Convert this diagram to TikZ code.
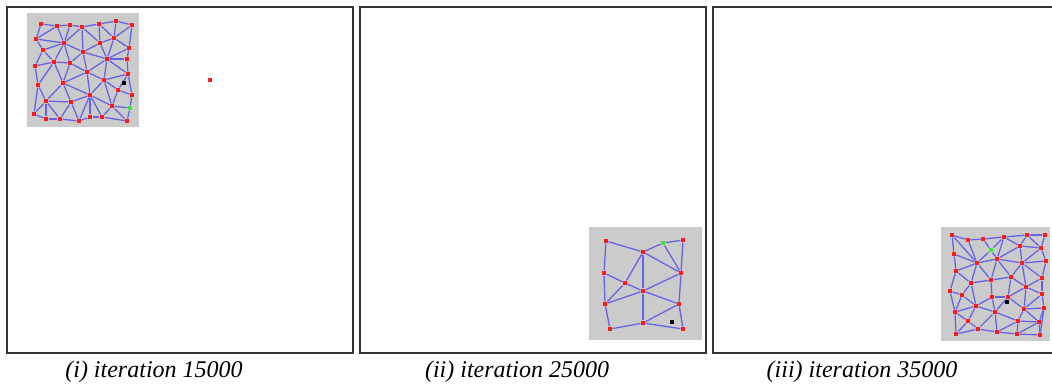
\documentclass[tikz,border=0pt]{standalone}
\usepackage{fontspec}
\setmainfont{Liberation Serif}
\usetikzlibrary{backgrounds}
\definecolor{Frame}{HTML}{333333}
\definecolor{Pad}{HTML}{CBCBCB}
\definecolor{Link}{HTML}{6262EA}
\definecolor{Unit}{HTML}{FF1A1A}
\definecolor{Win}{HTML}{3CE63C}
\tikzset{
  panel/.style={draw=Frame,line width=1.5pt},
  pad/.style={fill=Pad},
  neuron/.style={fill=Unit,inner sep=0pt,minimum size=3.4pt},
  winner/.style={neuron,fill=Win},
  signal/.style={neuron,fill=black},
  link/.style={draw=Link,line width=.95pt},
  caption/.style={anchor=base,font=\fontsize{18}{21}\selectfont\itshape},
}
\begin{document}
\begin{tikzpicture}[x=.75pt,y=-.75pt]
  \useasboundingbox (0,0) rectangle (1052,383);
  \draw[panel] (7,7) rectangle (353,353);
  \draw[panel] (360,7) rectangle (706,353);
  \draw[panel] (1052,7) -- (713,7) -- (713,353) -- (1052,353);

  % (i)
  \foreach \n/\x/\y in {1/41/24,2/57/26,3/70/25,4/82/27,5/99/24,6/116/21,7/132/25,
      8/36/39,9/64/43,10/100/43,11/114/38,12/129/48,13/43/50,14/83/52,15/107/59,16/127/59,
      17/35/66,18/54/62,19/70/63,20/87/72,21/128/74,22/38/85,23/63/83,24/104/80,
      25/118/90,26/132/95,27/90/95,28/46/101,29/71/102,30/112/106,
      31/34/114,32/46/119,33/60/119,34/79/121,35/90/117,36/102/117,37/127/121}
    \node[neuron] (u\n) at (\x,\y) {};
  \node[winner] (ug) at (130,108) {};
  \node[signal] (uk) at (124,83) {};
  \node[neuron] (stray) at (210,80) {};
  \begin{scope}[on background layer]
    \fill[pad] (27,13) rectangle (139,127);
    \foreach \a/\b in {1/2,2/3,3/4,4/5,5/6,6/7,1/8,2/8,2/9,3/9,4/9,4/14,4/10,5/10,5/11,6/11,7/11,7/12,
        8/9,8/13,13/9,9/14,14/10,10/11,11/12,10/15,11/15,12/15,12/16,15/16,14/15,
        13/17,13/18,9/18,9/19,14/19,14/20,15/20,15/21,16/21,15/24,20/24,24/21,
        17/18,18/19,19/20,17/22,18/22,18/23,19/23,20/23,20/27,24/27,24/25,24/30,21/25,21/26,
        25/26,25/30,27/30,27/23,23/29,23/28,22/28,28/29,27/29,22/31,28/31,28/32,28/33,
        29/33,29/34,27/34,27/35,27/36,30/36,30/37,31/32,32/33,33/34,34/35,35/36,36/37}
      \draw[link] (u\a) -- (u\b);
    \draw[link] (ug) -- (u26);
    \draw[link] (ug) -- (u30);
    \draw[link] (ug) -- (u37);
  \end{scope}

  % (ii)
  \foreach \n/\x/\y in {1/606/241,2/683/240,3/643/252,4/604/273,5/681/273,6/625/283,
      7/643/291,8/605/304,9/679/304,10/643/323,11/610/329,12/683/329}
    \node[neuron] (v\n) at (\x,\y) {};
  \node[winner] (vg) at (663,243) {};
  \node[signal] (vk) at (672,322) {};
  \begin{scope}[on background layer]
    \fill[pad] (589,227) rectangle (702,340);
    \foreach \a/\b in {1/3,1/4,2/5,3/5,3/7,3/6,4/6,4/8,6/7,6/8,7/5,7/9,7/8,7/10,
        5/9,8/11,11/10,10/12,9/12,9/10}
      \draw[link] (v\a) -- (v\b);
    \draw[link] (vg) -- (v3);
    \draw[link] (vg) -- (v2);
    \draw[link] (vg) -- (v5);
  \end{scope}

  % (iii)
  \foreach \n/\x/\y in {1/952/235,2/968/240,3/983/239,4/1004/237,5/1027/235,6/1045/235,
      7/1020/246,8/1041/248,9/954/254,10/977/263,11/997/259,12/1022/263,13/1046/261,
      14/956/271,15/1011/277,16/991/280,17/971/283,18/1042/278,19/1026/287,
      20/950/291,21/962/295,22/1042/294,23/992/297,24/1008/297,25/976/306,
      26/955/312,27/995/312,28/1024/309,29/1044/308,30/968/321,31/1018/321,
      32/1039/322,33/978/329,34/997/332,35/1017/334,36/956/334,37/1040/335}
    \node[neuron] (w\n) at (\x,\y) {};
  \node[winner] (wg) at (991,250) {};
  \node[signal] (wk) at (1007,302) {};
  \begin{scope}[on background layer]
    \fill[pad] (941,227) rectangle (1050,341);
    \foreach \a/\b in {1/2,2/3,3/4,4/5,5/6,1/9,9/14,14/20,20/26,26/36,36/33,33/34,34/35,35/37,
        6/8,8/13,13/18,18/22,22/29,29/37,1/10,2/10,4/11,4/7,5/7,5/8,7/8,
        7/11,7/12,8/12,12/13,11/12,10/11,9/10,14/10,14/17,10/17,10/16,11/16,11/15,
        12/15,12/19,12/18,18/19,15/19,15/16,16/17,17/21,20/21,21/26,21/25,17/25,
        16/23,23/25,23/24,15/24,19/24,24/28,19/28,19/22,22/28,28/29,23/27,24/27,
        25/27,25/30,25/26,26/30,30/36,30/33,27/33,27/34,27/31,28/31,31/34,31/35,
        31/32,28/32,29/32,32/37,32/35}
      \draw[link] (w\a) -- (w\b);
    \draw[link] (wg) -- (w3);
    \draw[link] (wg) -- (w4);
    \draw[link] (wg) -- (w10);
    \draw[link] (wg) -- (w11);
  \end{scope}

  \node[caption] (cap1) at (154,377) {(i) iteration 15000};
  \node[caption] (cap2) at (517,377) {(ii) iteration 25000};
  \node[caption] (cap3) at (862,377) {(iii) iteration 35000};
\end{tikzpicture}
\end{document}
